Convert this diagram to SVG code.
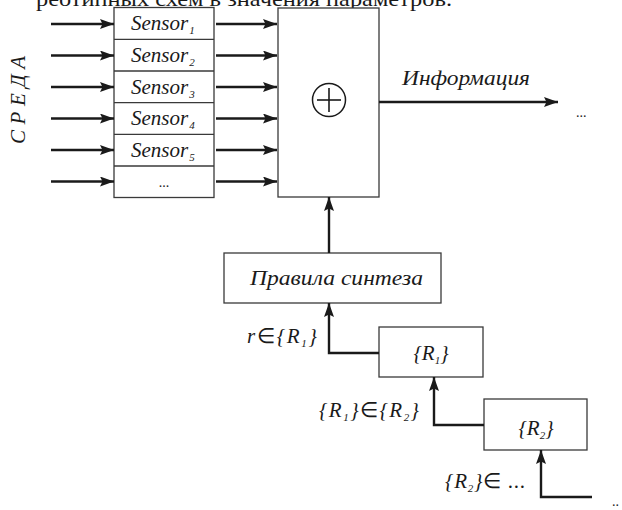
<svg xmlns="http://www.w3.org/2000/svg" width="622" height="510" viewBox="0 0 622 510">
<style>
  .box{fill:#fff;stroke:#3a3a3a;stroke-width:1.3}
  .ln{fill:none;stroke:#1a1a1a;stroke-width:2.4}
  .t{font-family:"Liberation Serif","Times New Roman",serif;font-style:italic;font-size:21px;fill:#1a1a1a}
  .r{font-family:"Liberation Serif","Times New Roman",serif;fill:#1a1a1a}
  .s{font-size:11px}
  .u{font-style:normal}
</style>
<defs>
  <marker id="ah" markerUnits="userSpaceOnUse" markerWidth="16" markerHeight="12" refX="14" refY="5" orient="auto">
    <path d="M0,0 L14,5 L0,10 L2.5,5 Z" fill="#1a1a1a"/>
  </marker>
</defs>
<rect width="622" height="510" fill="#fff"/>
<text class="r" x="36" y="6" font-size="21" textLength="416" lengthAdjust="spacingAndGlyphs">реотипных схем в значения параметров.</text>

<g id="sreda">
  <text class="t" transform="translate(25,144) rotate(-90)" textLength="88" lengthAdjust="spacing">СРЕДА</text>
</g>

<g id="sensors">
  <rect class="box" x="114" y="7.5" width="100" height="190"/>
  <line class="box" x1="114" y1="39.3" x2="214" y2="39.3"/>
  <line class="box" x1="114" y1="71" x2="214" y2="71"/>
  <line class="box" x1="114" y1="102.7" x2="214" y2="102.7"/>
  <line class="box" x1="114" y1="134.3" x2="214" y2="134.3"/>
  <line class="box" x1="114" y1="166" x2="214" y2="166"/>
  <text class="t" x="131" y="30">Sensor<tspan class="s" dy="4" dx="1">1</tspan></text>
  <text class="t" x="131" y="62">Sensor<tspan class="s" dy="4" dx="1">2</tspan></text>
  <text class="t" x="131" y="94">Sensor<tspan class="s" dy="4" dx="1">3</tspan></text>
  <text class="t" x="131" y="125">Sensor<tspan class="s" dy="4" dx="1">4</tspan></text>
  <text class="t" x="131" y="157">Sensor<tspan class="s" dy="4" dx="1">5</tspan></text>
  <text class="r" x="164" y="187" font-size="14" text-anchor="middle">...</text>
</g>

<g id="sum">
  <rect class="box" x="278" y="8" width="101" height="189"/>
  <circle cx="329" cy="100" r="16.5" fill="none" stroke="#1a1a1a" stroke-width="1.5"/>
  <line x1="317" y1="100" x2="341" y2="100" stroke="#1a1a1a" stroke-width="1.6"/>
  <line x1="329" y1="88" x2="329" y2="112" stroke="#1a1a1a" stroke-width="1.6"/>
</g>

<g id="info">
  <text class="t" x="402" y="85" textLength="128" lengthAdjust="spacingAndGlyphs">Информация</text>
  <text class="r" x="576" y="117" font-size="14">...</text>
</g>

<g id="rules">
  <rect class="box" x="224" y="253" width="217" height="50"/>
  <text class="t" x="250" y="285" textLength="173" lengthAdjust="spacingAndGlyphs">Правила синтеза</text>
</g>

<g id="R1">
  <rect class="box" x="379" y="327" width="104" height="50"/>
  <text class="t" x="431" y="360" text-anchor="middle">{R<tspan class="s" dy="4">1</tspan><tspan dy="-4">}</tspan></text>
</g>

<g id="R2">
  <rect class="box" x="484" y="399" width="103" height="51"/>
  <text class="t" x="536" y="435" text-anchor="middle">{R<tspan class="s" dy="4">2</tspan><tspan dy="-4">}</tspan></text>
</g>

<g id="labels">
  <text class="t" x="247" y="343" textLength="70" lengthAdjust="spacing">r<tspan class="u">∈</tspan>{R<tspan class="s" dy="4">1</tspan><tspan dy="-4">}</tspan></text>
  <text class="t" x="319" y="417" textLength="100" lengthAdjust="spacing">{R<tspan class="s" dy="4">1</tspan><tspan dy="-4">}</tspan><tspan class="u">∈</tspan>{R<tspan class="s" dy="4">2</tspan><tspan dy="-4">}</tspan></text>
  <text class="t" x="445" y="488" textLength="80" lengthAdjust="spacing">{R<tspan class="s" dy="4">2</tspan><tspan dy="-4">}</tspan><tspan class="u">∈ ...</tspan></text>
  <text class="r" x="612" y="506" font-size="14">..</text>
</g>

<g id="connectors">
  <line class="ln" x1="51" y1="24" x2="114" y2="24" marker-end="url(#ah)"/>
  <line class="ln" x1="51" y1="55.5" x2="114" y2="55.5" marker-end="url(#ah)"/>
  <line class="ln" x1="51" y1="87" x2="114" y2="87" marker-end="url(#ah)"/>
  <line class="ln" x1="51" y1="118.5" x2="114" y2="118.5" marker-end="url(#ah)"/>
  <line class="ln" x1="51" y1="150" x2="114" y2="150" marker-end="url(#ah)"/>
  <line class="ln" x1="51" y1="181.5" x2="114" y2="181.5" marker-end="url(#ah)"/>
  <line class="ln" x1="216" y1="24" x2="277" y2="24" marker-end="url(#ah)"/>
  <line class="ln" x1="216" y1="55.5" x2="277" y2="55.5" marker-end="url(#ah)"/>
  <line class="ln" x1="216" y1="87" x2="277" y2="87" marker-end="url(#ah)"/>
  <line class="ln" x1="216" y1="118.5" x2="277" y2="118.5" marker-end="url(#ah)"/>
  <line class="ln" x1="216" y1="150" x2="277" y2="150" marker-end="url(#ah)"/>
  <line class="ln" x1="216" y1="181.5" x2="277" y2="181.5" marker-end="url(#ah)"/>
  <line class="ln" x1="379" y1="102" x2="558" y2="102" marker-end="url(#ah)"/>
  <line class="ln" x1="329" y1="253" x2="329" y2="197" marker-end="url(#ah)"/>
  <polyline class="ln" points="379,353 329,353 329,303" marker-end="url(#ah)"/>
  <polyline class="ln" points="484,425 434,425 434,377" marker-end="url(#ah)"/>
  <polyline class="ln" points="592,497 541,497 541,450" marker-end="url(#ah)"/>
</g>
</svg>
